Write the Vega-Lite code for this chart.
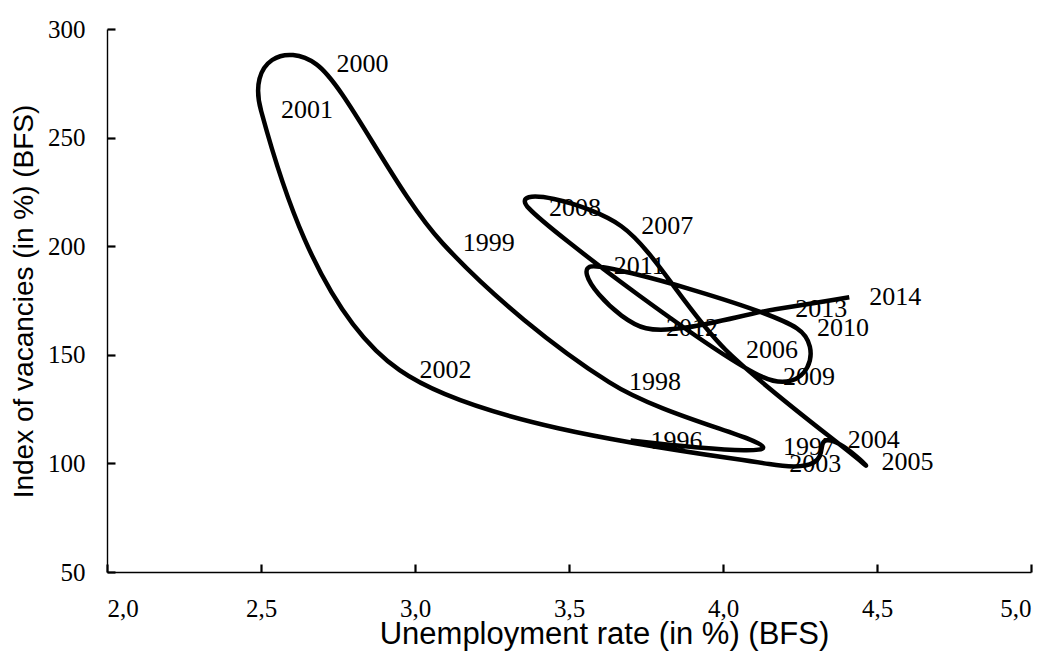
{
  "$schema": "https://vega.github.io/schema/vega-lite/v6.json",
  "width": 924,
  "height": 543,
  "autosize": {"type": "none"},
  "padding": {"left": 107, "top": 29, "right": 19, "bottom": 83},
  "background": "white",
  "config": {
    "view": {"stroke": null},
    "axis": {
      "grid": false,
      "domainColor": "#000000",
      "domainWidth": 1.4,
      "labelFont": "Liberation Serif",
      "labelFontSize": 25,
      "labelColor": "#000000",
      "titleFont": "Liberation Sans",
      "titleFontSize": 28,
      "titleFontWeight": "normal",
      "titleColor": "#000000"
    }
  },
  "data": {
    "values": [
      {"year": 1996, "u": 3.70, "v": 110.5},
      {"year": 1997, "u": 4.13, "v": 107.5},
      {"year": 1998, "u": 3.63, "v": 137.4},
      {"year": 1999, "u": 3.09, "v": 201.3},
      {"year": 2000, "u": 2.68, "v": 283.7},
      {"year": 2001, "u": 2.50, "v": 262.5},
      {"year": 2002, "u": 2.95, "v": 142.9},
      {"year": 2003, "u": 4.15, "v": 99.7},
      {"year": 2004, "u": 4.34, "v": 110.7},
      {"year": 2005, "u": 4.45, "v": 100.6},
      {"year": 2006, "u": 4.01, "v": 152.1},
      {"year": 2007, "u": 3.67, "v": 209.2},
      {"year": 2008, "u": 3.37, "v": 217.4},
      {"year": 2009, "u": 4.13, "v": 139.7},
      {"year": 2010, "u": 4.24, "v": 162.2},
      {"year": 2011, "u": 3.58, "v": 190.8},
      {"year": 2012, "u": 3.75, "v": 162.2},
      {"year": 2013, "u": 4.17, "v": 171.0},
      {"year": 2014, "u": 4.41, "v": 176.5}
    ]
  },
  "layer": [
    {
      "mark": {"type": "line", "interpolate": "cardinal", "tension": 0, "color": "#000000", "strokeWidth": 4.5, "strokeJoin": "round", "strokeCap": "butt"},
      "encoding": {
        "x": {
          "field": "u", "type": "quantitative",
          "scale": {"domain": [2, 5], "nice": false, "zero": false},
          "axis": {
            "orient": "bottom",
            "values": [2, 2.5, 3, 3.5, 4, 4.5, 5],
            "labelExpr": "replace(format(datum.value, '.1f'), '.', ',')",
            "ticks": true,
            "tickSize": -8,
            "tickWidth": 2.2,
            "tickColor": "#000000",
            "labelPadding": 32,
            "labelBaseline": "top",
            "title": "Unemployment rate (in %) (BFS)",
            "titleFontSize": 31,
            "titleX": 497,
            "titleY": 47,
            "titleBaseline": "top",
            "titleAlign": "center"
          }
        },
        "y": {
          "field": "v", "type": "quantitative",
          "scale": {"domain": [50, 300], "nice": false, "zero": false},
          "axis": {
            "orient": "left",
            "values": [50, 100, 150, 200, 250, 300],
            "ticks": true,
            "tickSize": -8,
            "tickWidth": 2.2,
            "tickColor": "#000000",
            "labelPadding": 30,
            "title": "Index of vacancies (in %) (BFS)",
            "titleAngle": 270,
            "titleX": -83,
            "titleY": 272,
            "titleBaseline": "middle",
            "titleAlign": "center"
          }
        },
        "order": {"field": "year", "type": "quantitative"}
      }
    },
    {
      "mark": {"type": "text", "align": "left", "baseline": "middle", "dx": 20, "font": "Liberation Serif", "fontSize": 26, "color": "#000000"},
      "encoding": {
        "x": {"field": "u", "type": "quantitative"},
        "y": {"field": "v", "type": "quantitative"},
        "text": {"field": "year", "type": "nominal"}
      }
    }
  ]
}
